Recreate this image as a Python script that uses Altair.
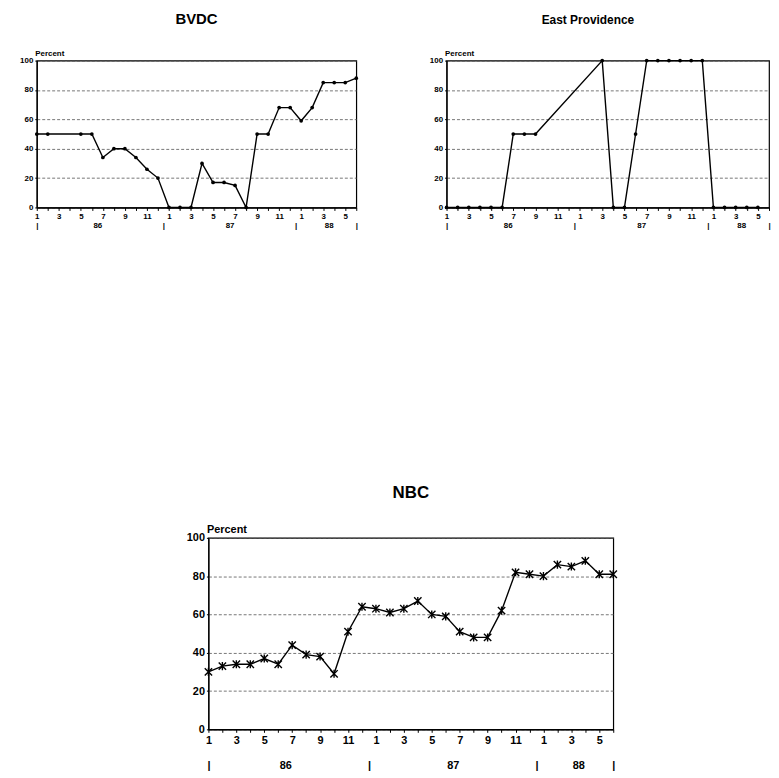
import altair as alt
import pandas as pd

# ---- data ----
bvdc_months = [1, 2, 5, 6, 7, 8, 9, 10, 11, 12, 13, 14, 15, 16, 17, 18, 19, 20,
               21, 22, 23, 24, 25, 26, 27, 28, 29, 30]
bvdc_pct = [50, 50, 50, 50, 34, 40, 40, 34, 26, 20, 0, 0, 0, 30, 17, 17, 15, 0,
            50, 50, 68, 68, 59, 68, 85, 85, 85, 88]

ep_months = [1, 2, 3, 4, 5, 6, 7, 8, 9, 15, 16, 17, 18, 19, 20, 21, 22, 23, 24,
             25, 26, 27, 28, 29]
ep_pct = [0, 0, 0, 0, 0, 0, 50, 50, 50, 100, 0, 0, 50, 100, 100, 100, 100, 100,
          100, 0, 0, 0, 0, 0]

nbc_months = list(range(1, 31))
nbc_pct = [30, 33, 34, 34, 37, 34, 44, 39, 38, 29, 51, 64, 63, 61, 63, 67, 60, 59,
           51, 48, 48, 62, 82, 81, 80, 86, 85, 88, 81, 81]

month_ticks = list(range(1, 31))
y_ticks = [0, 20, 40, 60, 80, 100]
year_marks = [1, 6.5, 12.5, 18.5, 24.5, 27.5, 30]
year_labels = {6.5: "86", 18.5: "87", 27.5: "88"}

FONT = "Liberation Sans"

year_expr = " : ".join(
    [f"datum.value == {k} ? '{v}'" for k, v in year_labels.items()]
) + " : '|'"
month_expr = "datum.value % 2 == 1 ? '' + (((datum.value - 1) % 12) + 1) : ''"


def panel(months, values, title, w, h, lab_size, title_size, title_dx,
          title_offset, point_mark, year_offset):
    df = pd.DataFrame({"month": months, "pct": values})
    xscale = alt.Scale(domain=[1, 30], nice=False, zero=False)
    y = alt.Y(
        "pct:Q",
        scale=alt.Scale(domain=[0, 100], nice=False),
        axis=alt.Axis(
            values=y_ticks, title="Percent", titleAngle=0, titleAlign="left",
            titleBaseline="bottom", titleX=-2, titleY=-3, titleFont=FONT,
            titleFontSize=lab_size, titleFontWeight="bold", titleColor="black",
            grid=True, gridDash=[3, 2], gridColor="#555", gridWidth=0.8,
            ticks=True, tickSize=2, tickColor="black", domainColor="black",
            domainWidth=1.2, labelFont=FONT, labelFontSize=lab_size,
            labelFontWeight="bold", labelColor="black", labelPadding=2,
        ),
    )
    x1 = alt.X(
        "month:Q", scale=xscale,
        axis=alt.Axis(
            values=month_ticks, labelExpr=month_expr, title=None, grid=False,
            domainColor="black", domainWidth=1.5, tickColor="black", tickSize=3,
            labelFont=FONT, labelFontSize=lab_size, labelFontWeight="bold",
            labelColor="black", labelPadding=2, labelOverlap=False,
            labelFlush=False,
        ),
    )
    x2 = alt.X(
        "month:Q", scale=xscale,
        axis=alt.Axis(
            values=year_marks, labelExpr=year_expr, title=None, grid=False,
            domain=False, ticks=False, offset=year_offset, orient="bottom",
            labelFont=FONT, labelFontSize=lab_size, labelFontWeight="bold",
            labelColor="black", labelPadding=0, labelOverlap=False,
            labelFlush=False,
        ),
    )
    base = alt.Chart(df)
    line = base.mark_line(color="black", strokeWidth=1.4).encode(x=x1, y=y)
    pts = point_mark(base).encode(x=x2, y=y)
    return (
        alt.layer(line, pts)
        .resolve_axis(x="independent")
        .properties(
            width=w, height=h,
            title=alt.TitleParams(title, font=FONT, fontSize=title_size,
                                  fontWeight="bold", color="black",
                                  offset=title_offset, dx=title_dx, dy=-2),
            view=alt.ViewBackground(stroke="black", strokeWidth=1.2),
        )
    )


def dots(base):
    return base.mark_point(filled=True, color="black", size=14, opacity=1)


def stars(base):
    return base.mark_point(
        shape="M-1,-1L1,1M-1,1L1,-1M0,-1.1L0,1.1",
        filled=False, color="black", size=55, strokeWidth=1.4, opacity=1,
    )


bvdc = panel(bvdc_months, bvdc_pct, "BVDC", 322, 148, 8, 15, 0, 21, dots, 14)
ep = panel(ep_months, ep_pct, "East Providence", 325, 148, 8, 12, -20, 21,
           dots, 14)
nbc = panel(nbc_months, nbc_pct, "NBC", 408, 193, 11, 17, 0, 20, stars, 30)

spacer = (
    alt.Chart(pd.DataFrame({"v": [0]}))
    .mark_point(opacity=0)
    .properties(width=139, height=10,
                view=alt.ViewBackground(stroke="transparent"))
)

top = alt.hconcat(bvdc, ep, spacing=69)
bottom = alt.hconcat(spacer, nbc, spacing=10)

chart = (
    alt.vconcat(top, bottom, spacing=255)
    .properties(padding={"left": 11, "top": 0, "right": 0, "bottom": 0})
    .configure(background="white")
)

chart.save("out.html", embed_options={"renderer": "svg", "actions": False})
